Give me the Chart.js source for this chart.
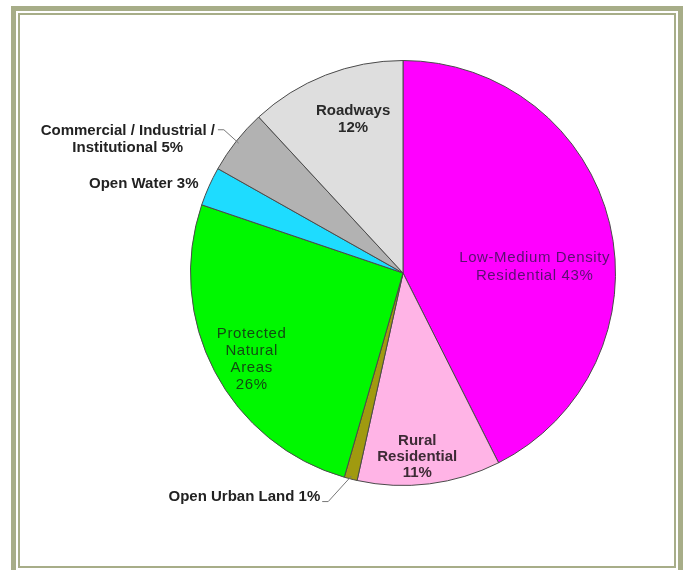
<!DOCTYPE html>
<html>
<head>
<meta charset="utf-8">
<script src="https://cdn.jsdelivr.net/npm/chart.js@4.4.0/dist/chart.umd.min.js"></script>
<style>
  html, body { margin: 0; padding: 0; background: #fff; }
  #wrap { position: relative; width: 683px; height: 570px; overflow: hidden; }
  .frame-outer { position: absolute; left: 11px; top: 6px; width: 672px; height: 580px;
    border: 5px solid #a7ad88; box-sizing: border-box; }
  .frame-inner { position: absolute; left: 18px; top: 13px; width: 658px; height: 555px;
    border: 2px solid #a7ad88; box-sizing: border-box; }
  canvas { position: absolute; left: 0; top: 0; }
</style>
</head>
<body>
<div id="wrap">
  <div class="frame-outer"></div>
  <div class="frame-inner"></div>
  <canvas id="landUseChart" width="683" height="570"></canvas>
</div>
<script>
// Data (clockwise from 12 o'clock)
const categories = [
  "Low-Medium Density Residential",
  "Rural Residential",
  "Open Urban Land",
  "Protected Natural Areas",
  "Open Water",
  "Commercial / Industrial / Institutional",
  "Roadways"
];
const shares = [43, 11, 1, 26, 3, 5, 12];

// Slice colours
const sliceColors = ["#ff00ff", "#ffb4e6", "#a09a10", "#00f800", "#1edcff", "#b2b2b2", "#dedede"];

// Label look: words per line, placement (angle shift in deg, distance in radii), font, colour
const labelStyle = [
  { words: [2, 3], shift: 10.8, dist: 0.62, font: "15px 'Liberation Sans'", spacing: "0.6px", color: "#5a1070", lh: 18 },
  { words: [1, 1, 1], shift: 2.7, dist: 0.87, font: "bold 15px 'Liberation Sans'", spacing: "0px", color: "#3d2a35", lh: 16 },
  { words: [4], shift: 21.1, dist: 1.29, font: "bold 15px 'Liberation Sans'", spacing: "0px", color: "#222", lh: 17, leader: "baseline" },
  { words: [1, 1, 1, 1], shift: -2.1, dist: 0.82, font: "15px 'Liberation Sans'", spacing: "0.6px", color: "#124a12", lh: 17.3 },
  { words: [3], shift: -5.1, dist: 1.29, font: "bold 15px 'Liberation Sans'", spacing: "0px", color: "#222", lh: 17 },
  { words: [4, 2], shift: -12.4, dist: 1.44, font: "bold 15px 'Liberation Sans'", spacing: "0px", color: "#222", lh: 17, leader: "top" },
  { words: [1, 1], shift: 3.4, dist: 0.76, font: "bold 15px 'Liberation Sans'", spacing: "0px", color: "#2a2a2a", lh: 17 }
];

function labelLines(i) {
  const words = (categories[i] + " " + shares[i] + "%").split(" ");
  const lines = [];
  let k = 0;
  labelStyle[i].words.forEach(function (n) {
    lines.push(words.slice(k, k + n).join(" "));
    k += n;
  });
  return lines;
}

const sliceLabels = {
  id: "sliceLabels",
  afterDatasetsDraw(chart) {
    const ctx = chart.ctx;
    const arcs = chart.getDatasetMeta(0).data;
    arcs.forEach(function (arc, i) {
      const p = arc.getProps(["x", "y", "startAngle", "endAngle", "outerRadius"], true);
      const st = labelStyle[i];
      const mid = (p.startAngle + p.endAngle) / 2;
      const a = mid + st.shift * Math.PI / 180;
      const cx = p.x + Math.cos(a) * p.outerRadius * st.dist;
      const cy = p.y + Math.sin(a) * p.outerRadius * st.dist;
      const lines = labelLines(i);

      ctx.save();
      ctx.font = st.font;
      ctx.letterSpacing = st.spacing;
      ctx.fillStyle = st.color;
      ctx.textAlign = "center";
      ctx.textBaseline = "middle";
      const top = cy - (lines.length - 1) * st.lh / 2;
      lines.forEach(function (t, j) {
        ctx.fillText(t, cx, top + j * st.lh);
      });

      if (st.leader) {
        // leader line from the label to the slice edge
        const ex = p.x + Math.cos(mid) * (p.outerRadius - 3);
        const ey = p.y + Math.sin(mid) * (p.outerRadius - 3);
        let sx, sy;
        if (st.leader === "top") {
          sx = cx + ctx.measureText(lines[0]).width / 2 + 3;
          sy = top - 1;
        } else {
          const last = lines[lines.length - 1];
          sx = cx + ctx.measureText(last).width / 2 + 2;
          sy = top + (lines.length - 1) * st.lh + 5;
        }
        ctx.strokeStyle = "#777";
        ctx.lineWidth = 1;
        ctx.beginPath();
        ctx.moveTo(sx, sy);
        ctx.lineTo(sx + 6, sy);
        ctx.lineTo(ex, ey);
        ctx.stroke();
      }
      ctx.restore();
    });
  }
};

new Chart(document.getElementById("landUseChart").getContext("2d"), {
  type: "pie",
  data: {
    labels: categories,
    datasets: [
      {
        data: shares,
        backgroundColor: sliceColors,
        borderColor: "#4a4a4a",
        borderWidth: 1
      }
    ]
  },
  options: {
    responsive: false,
    animation: false,
    layout: {
      padding: { left: 190, right: 67, top: 60, bottom: 84 }
    },
    plugins: {
      legend: { display: false },
      tooltip: { enabled: false }
    }
  },
  plugins: [sliceLabels]
});
</script>
</body>
</html>
